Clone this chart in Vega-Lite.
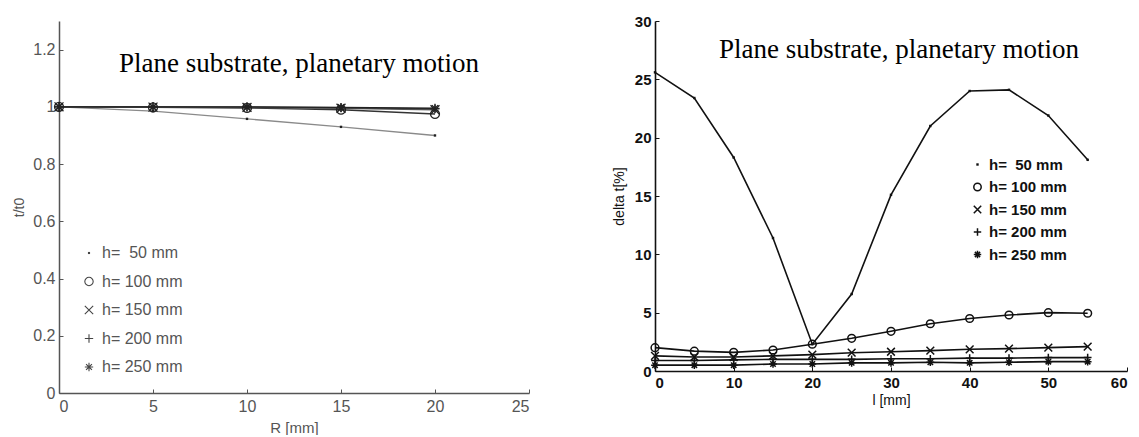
{
  "$schema": "https://vega.github.io/schema/vega-lite/v6.json",
  "background": "white",
  "padding": {"left": 12, "top": 14, "right": 0, "bottom": 0},
  "spacing": 126,
  "bounds": "flush",
  "config": {"view": {"stroke": null}, "font": "Liberation Sans"},
  "resolve": {"scale": {"shape": "independent", "color": "independent"}, "legend": {"shape": "independent"}},
  "datasets": {
    "left": [
      {"R": 0, "v": 1.0, "h": "h=\u00a0 50 mm"},
      {"R": 5, "v": 0.985, "h": "h=\u00a0 50 mm"},
      {"R": 10, "v": 0.958, "h": "h=\u00a0 50 mm"},
      {"R": 15, "v": 0.93, "h": "h=\u00a0 50 mm"},
      {"R": 20, "v": 0.9, "h": "h=\u00a0 50 mm"},
      {"R": 0, "v": 1.0, "h": "h= 100 mm"},
      {"R": 5, "v": 0.998, "h": "h= 100 mm"},
      {"R": 10, "v": 0.996, "h": "h= 100 mm"},
      {"R": 15, "v": 0.99, "h": "h= 100 mm"},
      {"R": 20, "v": 0.975, "h": "h= 100 mm"},
      {"R": 0, "v": 1.0, "h": "h= 150 mm"},
      {"R": 5, "v": 0.999, "h": "h= 150 mm"},
      {"R": 10, "v": 0.998, "h": "h= 150 mm"},
      {"R": 15, "v": 0.995, "h": "h= 150 mm"},
      {"R": 20, "v": 0.99, "h": "h= 150 mm"},
      {"R": 0, "v": 1.0, "h": "h= 200 mm"},
      {"R": 5, "v": 1.0, "h": "h= 200 mm"},
      {"R": 10, "v": 0.999, "h": "h= 200 mm"},
      {"R": 15, "v": 0.997, "h": "h= 200 mm"},
      {"R": 20, "v": 0.993, "h": "h= 200 mm"},
      {"R": 0, "v": 1.0, "h": "h= 250 mm"},
      {"R": 5, "v": 1.0, "h": "h= 250 mm"},
      {"R": 10, "v": 1.0, "h": "h= 250 mm"},
      {"R": 15, "v": 0.998, "h": "h= 250 mm"},
      {"R": 20, "v": 0.995, "h": "h= 250 mm"}
    ],
    "right": [
      {"l": 0, "d": 25.6, "hr": "h=\u00a0 50 mm"},
      {"l": 5, "d": 23.4, "hr": "h=\u00a0 50 mm"},
      {"l": 10, "d": 18.3, "hr": "h=\u00a0 50 mm"},
      {"l": 15, "d": 11.4, "hr": "h=\u00a0 50 mm"},
      {"l": 20, "d": 2.3, "hr": "h=\u00a0 50 mm"},
      {"l": 25, "d": 6.6, "hr": "h=\u00a0 50 mm"},
      {"l": 30, "d": 15.1, "hr": "h=\u00a0 50 mm"},
      {"l": 35, "d": 21.0, "hr": "h=\u00a0 50 mm"},
      {"l": 40, "d": 24.0, "hr": "h=\u00a0 50 mm"},
      {"l": 45, "d": 24.1, "hr": "h=\u00a0 50 mm"},
      {"l": 50, "d": 21.9, "hr": "h=\u00a0 50 mm"},
      {"l": 55, "d": 18.1, "hr": "h=\u00a0 50 mm"},
      {"l": 0, "d": 2.0, "hr": "h= 100 mm"},
      {"l": 5, "d": 1.7, "hr": "h= 100 mm"},
      {"l": 10, "d": 1.6, "hr": "h= 100 mm"},
      {"l": 15, "d": 1.8, "hr": "h= 100 mm"},
      {"l": 20, "d": 2.3, "hr": "h= 100 mm"},
      {"l": 25, "d": 2.8, "hr": "h= 100 mm"},
      {"l": 30, "d": 3.4, "hr": "h= 100 mm"},
      {"l": 35, "d": 4.05, "hr": "h= 100 mm"},
      {"l": 40, "d": 4.5, "hr": "h= 100 mm"},
      {"l": 45, "d": 4.8, "hr": "h= 100 mm"},
      {"l": 50, "d": 5.0, "hr": "h= 100 mm"},
      {"l": 55, "d": 4.95, "hr": "h= 100 mm"},
      {"l": 0, "d": 1.3, "hr": "h= 150 mm"},
      {"l": 5, "d": 1.2, "hr": "h= 150 mm"},
      {"l": 10, "d": 1.2, "hr": "h= 150 mm"},
      {"l": 15, "d": 1.3, "hr": "h= 150 mm"},
      {"l": 20, "d": 1.4, "hr": "h= 150 mm"},
      {"l": 25, "d": 1.57, "hr": "h= 150 mm"},
      {"l": 30, "d": 1.65, "hr": "h= 150 mm"},
      {"l": 35, "d": 1.75, "hr": "h= 150 mm"},
      {"l": 40, "d": 1.86, "hr": "h= 150 mm"},
      {"l": 45, "d": 1.92, "hr": "h= 150 mm"},
      {"l": 50, "d": 2.0, "hr": "h= 150 mm"},
      {"l": 55, "d": 2.09, "hr": "h= 150 mm"},
      {"l": 0, "d": 0.9, "hr": "h= 200 mm"},
      {"l": 5, "d": 0.9, "hr": "h= 200 mm"},
      {"l": 10, "d": 0.95, "hr": "h= 200 mm"},
      {"l": 15, "d": 1.0, "hr": "h= 200 mm"},
      {"l": 20, "d": 1.0, "hr": "h= 200 mm"},
      {"l": 25, "d": 1.0, "hr": "h= 200 mm"},
      {"l": 30, "d": 1.05, "hr": "h= 200 mm"},
      {"l": 35, "d": 1.05, "hr": "h= 200 mm"},
      {"l": 40, "d": 1.1, "hr": "h= 200 mm"},
      {"l": 45, "d": 1.1, "hr": "h= 200 mm"},
      {"l": 50, "d": 1.15, "hr": "h= 200 mm"},
      {"l": 55, "d": 1.15, "hr": "h= 200 mm"},
      {"l": 0, "d": 0.5, "hr": "h= 250 mm"},
      {"l": 5, "d": 0.5, "hr": "h= 250 mm"},
      {"l": 10, "d": 0.5, "hr": "h= 250 mm"},
      {"l": 15, "d": 0.6, "hr": "h= 250 mm"},
      {"l": 20, "d": 0.6, "hr": "h= 250 mm"},
      {"l": 25, "d": 0.7, "hr": "h= 250 mm"},
      {"l": 30, "d": 0.7, "hr": "h= 250 mm"},
      {"l": 35, "d": 0.75, "hr": "h= 250 mm"},
      {"l": 40, "d": 0.7, "hr": "h= 250 mm"},
      {"l": 45, "d": 0.75, "hr": "h= 250 mm"},
      {"l": 50, "d": 0.8, "hr": "h= 250 mm"},
      {"l": 55, "d": 0.8, "hr": "h= 250 mm"}
    ]
  },
  "hconcat": [
    {
      "width": 470,
      "height": 372,
      "data": {"name": "left"},
      "title": {"text": "Plane substrate, planetary motion", "font": "Liberation Serif", "fontSize": 27, "fontWeight": "normal", "color": "black", "anchor": "start", "frame": "group", "baseline": "alphabetic", "offset": -78, "dx": 60},
      "resolve": {"scale": {"shape": "shared", "color": "independent"}},
      "encoding": {
        "x": {"field": "R", "type": "quantitative", "scale": {"domain": [0, 25], "nice": false},
          "axis": {"values": [0, 5, 10, 15, 20, 25], "title": "R [mm]", "grid": false, "tickSize": -4, "labelPadding": 9, "labelFontSize": 16, "labelColor": "#555", "titleFontSize": 15, "titleFontWeight": "normal", "titleColor": "#555", "titlePadding": 6, "domainColor": "#555", "domainWidth": 1.5, "tickColor": "#555"}},
        "y": {"field": "v", "type": "quantitative", "scale": {"domain": [0, 1.3], "nice": false},
          "axis": {"values": [0, 0.2, 0.4, 0.6, 0.8, 1, 1.2], "format": ".2~g", "title": "t/t0", "grid": false, "tickSize": -4, "labelPadding": 8, "labelFontSize": 16, "labelColor": "#555", "titleFontSize": 14, "titleFontWeight": "normal", "titleColor": "#555", "titlePadding": 6, "domainColor": "#555", "domainWidth": 1.5, "tickColor": "#555"}}
      },
      "layer": [
        {
          "mark": {"type": "line", "strokeWidth": 1.4},
          "encoding": {
            "color": {"field": "h", "type": "nominal", "legend": null,
              "scale": {"domain": ["h=\u00a0 50 mm", "h= 100 mm", "h= 150 mm", "h= 200 mm", "h= 250 mm"], "range": ["#8a8a8a", "#333333", "#555555", "#444444", "#222222"]}}
          }
        },
        {
          "mark": {"type": "point", "filled": false, "size": 80, "strokeWidth": 1.3, "color": "#222", "opacity": 1},
          "encoding": {
            "shape": {"field": "h", "type": "nominal",
              "scale": {"domain": ["h=\u00a0 50 mm", "h= 100 mm", "h= 150 mm", "h= 200 mm", "h= 250 mm"],
                "range": ["M-0.12,-0.12L0.12,-0.12L0.12,0.12L-0.12,0.12Z", "circle", "M-1,-1L1,1M-1,1L1,-1", "M-1,0L1,0M0,-1L0,1", "M-1,0L1,0M0,-1L0,1M-0.7,-0.7L0.7,0.7M-0.7,0.7L0.7,-0.7"]},
              "legend": {"orient": "none", "legendX": 22, "legendY": 224, "title": null, "padding": 0, "labelFont": "Liberation Sans", "labelFontSize": 16, "labelColor": "#555", "symbolSize": 70, "symbolStrokeColor": "#444", "symbolStrokeWidth": 1.1, "rowPadding": 12.5, "labelOffset": 5}}
          }
        }
      ]
    },
    {
      "width": 472,
      "height": 350,
      "data": {"name": "right"},
      "title": {"text": "Plane substrate, planetary motion", "font": "Liberation Serif", "fontSize": 27, "fontWeight": "normal", "color": "black", "anchor": "start", "frame": "group", "baseline": "alphabetic", "offset": -71, "dx": 64},
      "encoding": {
        "x": {"field": "l", "type": "quantitative", "scale": {"domain": [0, 60], "nice": false},
          "axis": {"values": [0, 10, 20, 30, 40, 50, 60], "title": "l [mm]", "grid": false, "tickSize": -4, "labelPadding": 8, "labelFontSize": 15, "labelFontWeight": "bold", "labelColor": "#111", "titleFontSize": 14, "titleFontWeight": "normal", "titleColor": "#111", "titlePadding": 3, "domainColor": "#111", "domainWidth": 1.6, "tickColor": "#111"}},
        "y": {"field": "d", "type": "quantitative", "scale": {"domain": [0, 30], "nice": false},
          "axis": {"values": [0, 5, 10, 15, 20, 25, 30], "title": "delta t[%]", "grid": false, "tickSize": -4, "labelPadding": 8, "labelFontSize": 15, "labelFontWeight": "bold", "labelColor": "#111", "titleFontSize": 14, "titleFontWeight": "normal", "titleColor": "#111", "titlePadding": 8, "domainColor": "#111", "domainWidth": 1.6, "tickColor": "#111"}}
      },
      "layer": [
        {
          "mark": {"type": "line", "strokeWidth": 1.6, "color": "#111"},
          "encoding": {"detail": {"field": "hr", "type": "nominal"}}
        },
        {
          "mark": {"type": "point", "filled": false, "size": 60, "strokeWidth": 1.5, "color": "#111", "opacity": 1},
          "encoding": {
            "shape": {"field": "hr", "type": "nominal",
              "scale": {"domain": ["h=\u00a0 50 mm", "h= 100 mm", "h= 150 mm", "h= 200 mm", "h= 250 mm"],
                "range": ["M-0.12,-0.12L0.12,-0.12L0.12,0.12L-0.12,0.12Z", "circle", "M-1,-1L1,1M-1,1L1,-1", "M-1,0L1,0M0,-1L0,1", "M-1,0L1,0M0,-1L0,1M-0.7,-0.7L0.7,0.7M-0.7,0.7L0.7,-0.7"]},
              "legend": {"orient": "none", "legendX": 315, "legendY": 136, "title": null, "padding": 0, "labelFont": "Liberation Sans", "labelFontSize": 15, "labelFontWeight": "bold", "labelColor": "#111", "symbolSize": 55, "symbolStrokeColor": "#111", "symbolStrokeWidth": 1.5, "rowPadding": 6.5, "labelOffset": 4}}
          }
        }
      ]
    }
  ]
}
